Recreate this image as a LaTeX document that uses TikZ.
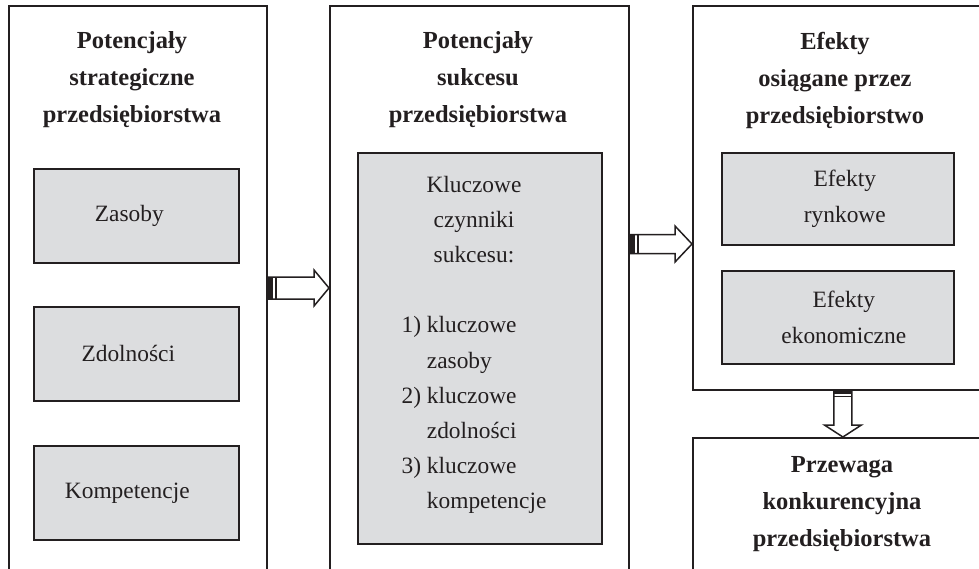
\documentclass[tikz,border=0pt]{standalone}
\usepackage{fontspec}
\setmainfont{Liberation Serif}
\usetikzlibrary{calc}
\definecolor{ramka}{RGB}{35,31,32}
\definecolor{szary}{RGB}{220,221,223}
\begin{document}
\begin{tikzpicture}[x=1pt,y=1pt,
    duzy/.style={draw=ramka, line width=1.8pt, anchor=north west, inner sep=0pt},
    maly/.style={draw=ramka, fill=szary, line width=1.6pt, anchor=north west, inner sep=0pt},
    opis/.style={align=center, text=ramka, font=\fontsize{23.4}{36}\selectfont},
    tytul/.style={align=center, text=ramka, font=\fontsize{24.5}{37}\selectfont\bfseries},
    strzalka/.style={draw=ramka, fill=white, line width=1.5pt, line join=miter}]
            \useasboundingbox (0,0) rectangle (979,-568);
            \clip (0,0) rectangle (979,-568);

            %duze ramki
            \node[duzy, minimum width=258, minimum height=620] (lewy) at (8,-5) {};
            \node[duzy, minimum width=299, minimum height=620] (srodek) at (329,-5) {};
            \node[duzy, minimum width=300, minimum height=384] (prawy) at (692,-5) {};
            \node[duzy, minimum width=300, minimum height=200] (przewaga) at (692,-437) {};

            %tytuly
            \node[tytul] (t1) at (132,-80) {Potencjały\\strategiczne\\przedsiębiorstwa};
            \node[tytul] (t2) at (478,-80) {Potencjały\\sukcesu\\przedsiębiorstwa};
            \node[tytul] (t3) at (835,-80) {Efekty\\osiągane przez\\przedsiębiorstwo};
            \node[tytul] (t4) at (842,-504) {Przewaga\\konkurencyjna\\przedsiębiorstwa};

            %szare ramki
            \node[maly, minimum width=205, minimum height=94] (zasoby) at (33,-168) {};
            \node[maly, minimum width=205, minimum height=94] (zdolnosci) at (33,-306) {};
            \node[maly, minimum width=205, minimum height=94] (kompetencje) at (33,-445) {};
            \node[maly, minimum width=244, minimum height=391] (kczs) at (357,-152) {};
            \node[maly, minimum width=232, minimum height=92] (rynkowe) at (721,-152) {};
            \node[maly, minimum width=232, minimum height=93] (ekonomiczne) at (721,-270) {};

            %teksty w szarych ramkach
            \node[opis] (o1) at ($(zasoby.center)+(-7,0)$) {Zasoby};
            \node[opis] (o2) at ($(zdolnosci.center)+(-8,0)$) {Zdolności};
            \node[opis] (o3) at ($(kompetencje.center)+(-9,0)$) {Kompetencje};
            \node[opis] (o4) at (474,-343.5) {%
                \fontsize{23.4}{35.2}\selectfont
                \begin{tabular}{@{}l@{\ }l@{}}
                \multicolumn{2}{c}{Kluczowe}\\
                \multicolumn{2}{c}{czynniki}\\
                \multicolumn{2}{c}{sukcesu:}\\
                \\
                1) & kluczowe\\
                   & zasoby\\
                2) & kluczowe\\
                   & zdolności\\
                3) & kluczowe\\
                   & kompetencje
                \end{tabular}};
            \node[opis] (o5) at ($(rynkowe.center)+(7,0)$) {Efekty\\rynkowe};
            \node[opis] (o6) at ($(ekonomiczne.center)+(6,0)$) {Efekty\\ekonomiczne};

            %strzalki
            \coordinate (s1) at (lewy.east |- 0,-288);
            \coordinate (k1) at (srodek.west |- s1);
            \draw[strzalka] ($(s1)+(0,11)$) -- ($(k1)+(-15,11)$) -- ($(k1)+(-15,18)$) -- (k1)
                -- ($(k1)+(-15,-18)$) -- ($(k1)+(-15,-11)$) -- ($(s1)+(0,-11)$) -- cycle;
            \fill[ramka] ($(s1)+(0,-11)$) rectangle ($(s1)+(5,11)$);
            \draw[ramka, line width=1.5pt] ($(s1)+(8,-11)$) -- ($(s1)+(8,11)$);

            \coordinate (s2) at (srodek.east |- 0,-244);
            \coordinate (k2) at (prawy.west |- s2);
            \draw[strzalka] ($(s2)+(0,9.5)$) -- ($(k2)+(-17,9.5)$) -- ($(k2)+(-17,18)$) -- (k2)
                -- ($(k2)+(-17,-18)$) -- ($(k2)+(-17,-9.5)$) -- ($(s2)+(0,-9.5)$) -- cycle;
            \fill[ramka] ($(s2)+(0,-9.5)$) rectangle ($(s2)+(5,9.5)$);
            \draw[ramka, line width=1.5pt] ($(s2)+(8,-9.5)$) -- ($(s2)+(8,9.5)$);

            \coordinate (s3) at (prawy.south);
            \coordinate (k3) at (przewaga.north);
            \draw[strzalka] ($(s3)+(-9,0)$) -- ($(k3)+(-9,12)$) -- ($(k3)+(-18.5,12)$) -- (k3)
                -- ($(k3)+(18.5,12)$) -- ($(k3)+(9,12)$) -- ($(s3)+(9,0)$) -- cycle;
            \fill[ramka] ($(s3)+(-9,0)$) rectangle ($(s3)+(9,-3)$);
            \draw[ramka, line width=1.5pt] ($(s3)+(-9,-5.5)$) -- ($(s3)+(9,-5.5)$);
        \end{tikzpicture}
\end{document}
